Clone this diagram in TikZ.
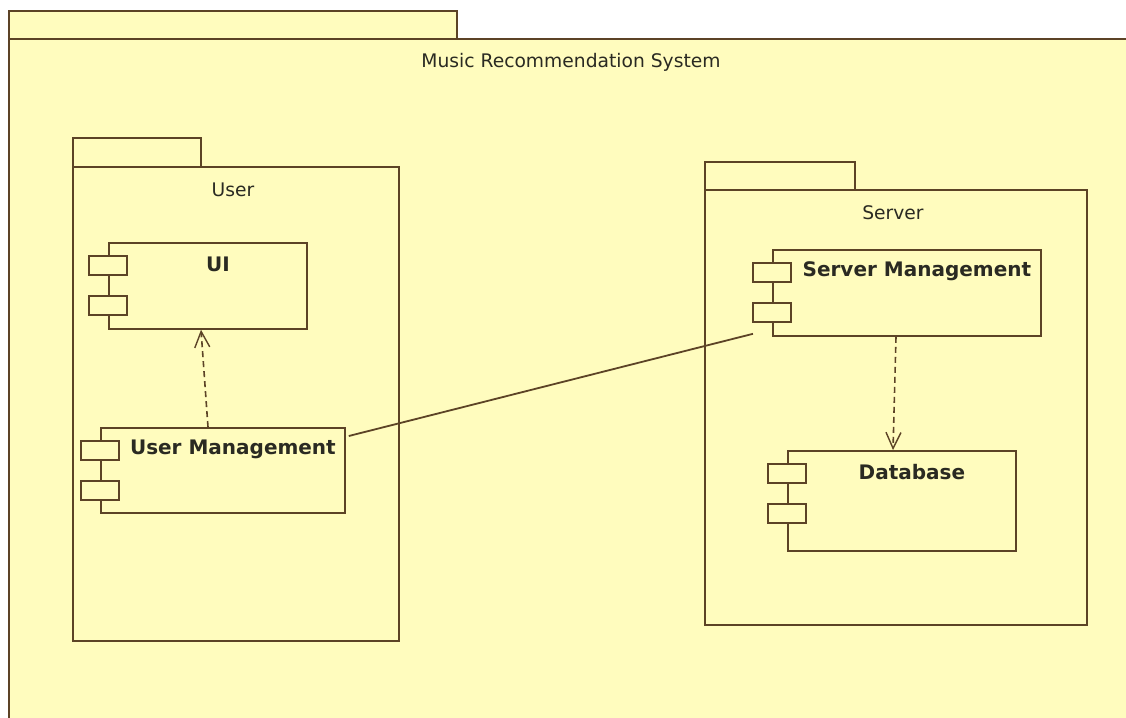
\documentclass[tikz,border=0pt]{standalone}
\usepackage{fontspec}
\setmainfont{DejaVu Sans}
\usetikzlibrary{arrows.meta,calc}
\definecolor{umlfill}{HTML}{FFFCBE}
\definecolor{umlline}{HTML}{5C4326}
\definecolor{umltext}{HTML}{2A2A22}
\tikzset{
  pkgshape/.style={draw=umlline, fill=umlfill, line width=1.8pt, anchor=north west, inner sep=0pt},
  compbox/.style={draw=umlline, fill=umlfill, line width=1.8pt, anchor=north west, inner sep=0pt},
  portbox/.style={draw=umlline, fill=umlfill, line width=1.8pt, anchor=north west, inner sep=0pt,
                  minimum width=38pt, minimum height=19pt},
  pkgtitle/.style={text=umltext, font=\fontsize{18.7}{21}\selectfont},
  comptitle/.style={text=umltext, font=\bfseries\fontsize{20}{22}\selectfont},
  dep/.style={draw=umlline, line width=1.6pt, dash pattern=on 6pt off 4pt,
              -{Straight Barb[length=16pt,width=15pt,line width=1.4pt]}},
  assoc/.style={draw=umlline, line width=1.8pt},
}
% a component: box plus two port rectangles on its left edge
\newcommand{\umlcomp}[6]{% name, x, y, width, height, title
  \node[compbox, minimum width=#4pt, minimum height=#5pt] (#1) at (#2,#3) {};
  \node[portbox] (#1-p1) at ($(#1.north west)+(-20,13)$) {};
  \node[portbox] (#1-p2) at ($(#1.north west)+(-20,53)$) {};
  \node[comptitle] (#1-t) at ($(#1.north)+(10,22)$) {#6};
}
\begin{document}
\begin{tikzpicture}[x=1pt,y=-1pt]
\useasboundingbox (0,0) rectangle (1126,717);
\fill[white] (0,0) rectangle (1126,717);

% outer package
\node[pkgshape, minimum width=448pt, minimum height=28pt] (systab) at (8,10) {};
\node[pkgshape, minimum width=1130pt, minimum height=690pt] (sys) at (8,38) {};
\node[pkgtitle] (syst) at (571,62) {Music Recommendation System};

% User package
\node[pkgshape, minimum width=128pt, minimum height=29pt] (usertab) at (72,137) {};
\node[pkgshape, minimum width=326pt, minimum height=474pt] (user) at (72,166) {};
\node[pkgtitle] (usert) at (233,190) {User};

% Server package
\node[pkgshape, minimum width=150pt, minimum height=28pt] (servertab) at (704,161) {};
\node[pkgshape, minimum width=382pt, minimum height=435pt] (server) at (704,189) {};
\node[pkgtitle] (servert) at (893,213) {Server};

% components
\umlcomp{ui}{108}{242}{198}{86}{UI}
\umlcomp{um}{100}{427}{244}{85}{User Management}
\umlcomp{sm}{772}{249}{268}{86}{Server Management}
\umlcomp{db}{787}{450}{228}{100}{Database}

% connectors
\draw[dep] ($(um.north west)+(108,0)$) -- ($(ui.south west)+(93,0)$);
\draw[dep] ($(sm.south west)+(124,0)$) -- ($(db.north west)+(106,0)$);
\coordinate (smend) at ($(sm.south west)+(-19,-3)$);
\draw[assoc] ($(um.north east)+(3,9)$) -- (smend);
\end{tikzpicture}
\end{document}
